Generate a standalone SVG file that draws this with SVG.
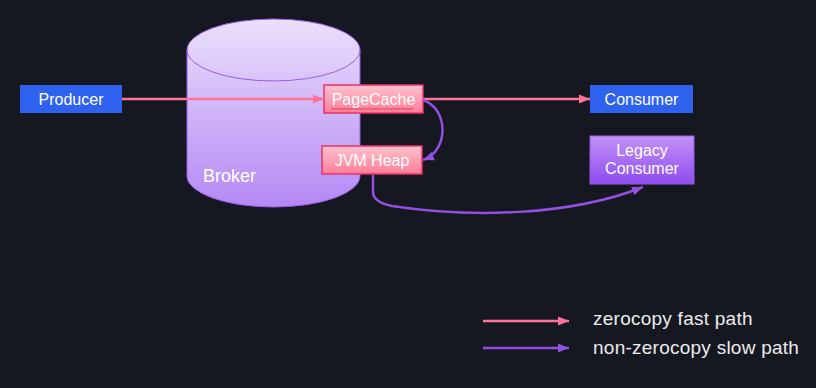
<svg xmlns="http://www.w3.org/2000/svg" width="816" height="388" viewBox="0 0 816 388">
<defs>
<linearGradient id="cyl" x1="0" y1="0" x2="0" y2="1"><stop offset="0" stop-color="#ebe0fc"/><stop offset="1" stop-color="#b488f4"/></linearGradient>
<linearGradient id="pink" x1="0" y1="0" x2="0" y2="1"><stop offset="0" stop-color="#ffc2ce"/><stop offset="1" stop-color="#ff7d98"/></linearGradient>
<linearGradient id="purp" x1="0" y1="0" x2="0" y2="1"><stop offset="0" stop-color="#c491f8"/><stop offset="1" stop-color="#8c4cf0"/></linearGradient>
<marker id="ap" viewBox="0 0 10 10" refX="10" refY="5" markerWidth="11" markerHeight="11" markerUnits="userSpaceOnUse" orient="auto"><path d="M0,1 L10,5 L0,9 Z" fill="#ff7398"/></marker>
<marker id="au" viewBox="0 0 10 10" refX="10" refY="5" markerWidth="11" markerHeight="11" markerUnits="userSpaceOnUse" orient="auto"><path d="M0,1 L10,5 L0,9 Z" fill="#9150e2"/></marker>
</defs>
<style>
text{font-family:"Liberation Sans",Arial,sans-serif;fill:#ffffff}
.lbl{font-size:16px;text-anchor:middle}
.blue{fill:#2e62ee}
.pk{fill:url(#pink);stroke:#e8336a;stroke-width:1.5}
.fast{stroke:#ff7398;stroke-width:2.5;fill:none}
.slow{stroke:#9150e2;stroke-width:2.5;fill:none}
.leg{font-size:19px;fill:#ececec;letter-spacing:0.25px}
</style>
<rect width="816" height="388" fill="#161821"/>
<g id="broker">
<path d="M187,50 L187,176 A86.5,31 0 0 0 360,176 L360,50 A86.5,31 0 0 0 187,50 Z" fill="url(#cyl)" stroke="#9a5ce6" stroke-width="1"/>
<path d="M187,50 A86.5,31 0 0 0 360,50" fill="none" stroke="#9a5ce6" stroke-width="1"/>
<text x="203" y="182" style="font-size:18px">Broker</text>
</g>
<g id="producer">
<rect x="20" y="85" width="102" height="28" class="blue"/>
<text x="71" y="105" class="lbl">Producer</text>
</g>
<g id="consumer">
<rect x="590" y="85" width="103" height="28" class="blue"/>
<text x="641.5" y="105" class="lbl">Consumer</text>
</g>
<g id="legacy">
<rect x="590" y="136" width="104" height="48" fill="url(#purp)" stroke="#9a5ce6" stroke-width="1"/>
<text x="642" y="156" class="lbl">Legacy</text>
<text x="642" y="174" class="lbl">Consumer</text>
</g>
<g id="pagecache">
<rect x="324" y="85" width="99" height="28" class="pk"/>
<text x="373.5" y="105" class="lbl">PageCache</text>
<path d="M331,109.5 l1.5,-1.2 1.5,1.2 1.5,-1.2 1.5,1.2 1.5,-1.2 1.5,1.2 1.5,-1.2 1.5,1.2 1.5,-1.2 1.5,1.2 1.5,-1.2 1.5,1.2 1.5,-1.2 1.5,1.2 1.5,-1.2 1.5,1.2 1.5,-1.2 1.5,1.2 1.5,-1.2 1.5,1.2 1.5,-1.2 1.5,1.2 1.5,-1.2 1.5,1.2 1.5,-1.2 1.5,1.2 1.5,-1.2 1.5,1.2 1.5,-1.2 1.5,1.2 1.5,-1.2 1.5,1.2 1.5,-1.2 1.5,1.2 1.5,-1.2 1.5,1.2 1.5,-1.2 1.5,1.2 1.5,-1.2 1.5,1.2 1.5,-1.2 1.5,1.2 1.5,-1.2 1.5,1.2 1.5,-1.2 1.5,1.2 1.5,-1.2 1.5,1.2 1.5,-1.2 1.5,1.2 1.5,-1.2 1.5,1.2 1.5,-1.2 1.5,1.2 1.5,-1.2" fill="none" stroke="#e0303c" stroke-width="0.9"/>
</g>
<g id="jvmheap">
<rect x="322" y="146" width="100" height="28" class="pk"/>
<text x="372" y="166" class="lbl">JVM Heap</text>
</g>
<g id="connectors">
<line x1="122" y1="99" x2="324" y2="99" class="fast" marker-end="url(#ap)"/>
<line x1="423" y1="99" x2="590" y2="99" class="fast" marker-end="url(#ap)"/>
<path d="M423,100 C448,108 450,150 423,160" class="slow" marker-end="url(#au)"/>
<path d="M373,175 L373,192 Q373,202 392,206 C470,218 570,216 643,187" class="slow" marker-end="url(#au)"/>
</g>
<g id="legend">
<line x1="483" y1="321" x2="569" y2="321" class="fast" marker-end="url(#ap)"/>
<line x1="483" y1="348" x2="569" y2="348" class="slow" marker-end="url(#au)"/>
<text x="593" y="325" class="leg">zerocopy fast path</text>
<text x="593" y="354" class="leg">non-zerocopy slow path</text>
</g>
</svg>
